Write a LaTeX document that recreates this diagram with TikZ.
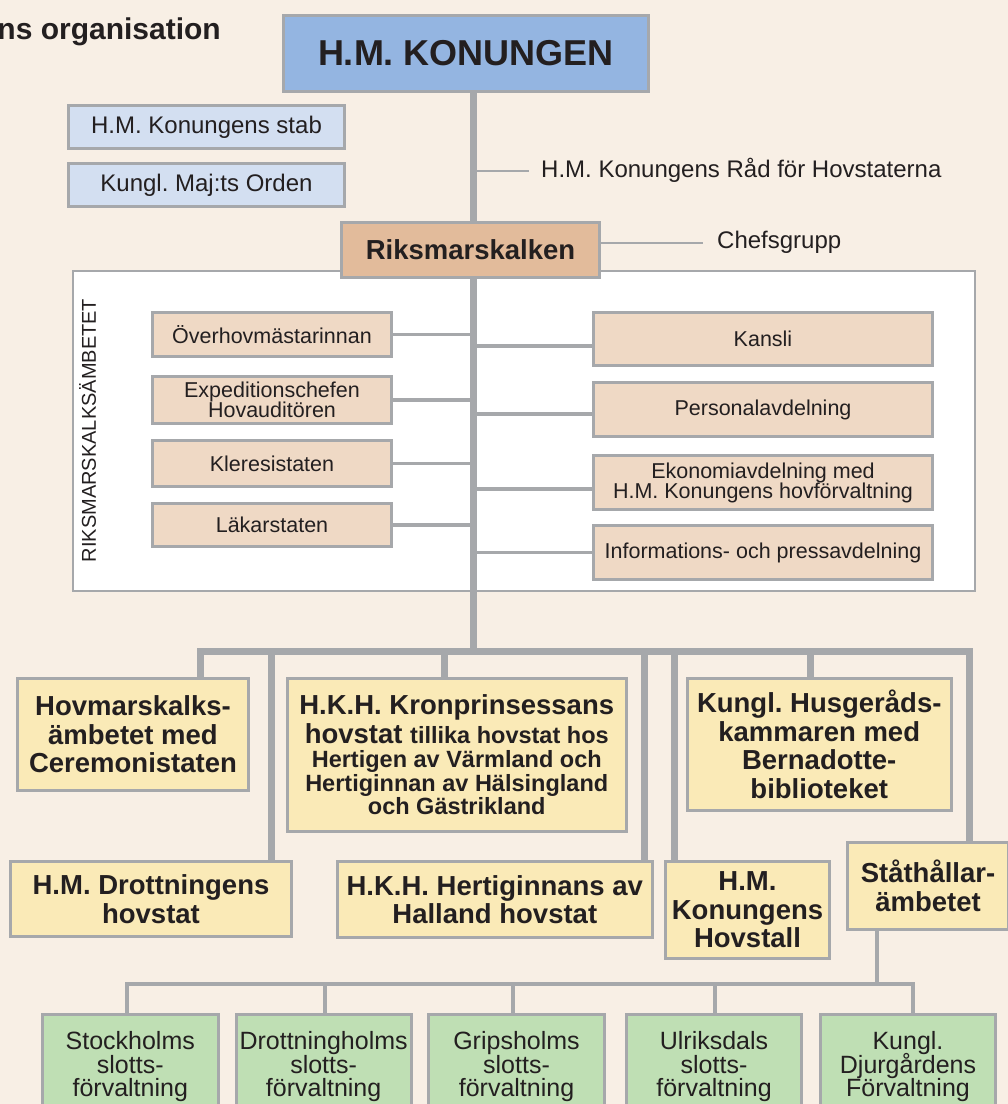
\documentclass[tikz,border=0pt]{standalone}
\usepackage{fontspec}
\setmainfont{Liberation Sans}
\usetikzlibrary{calc}
\definecolor{bgc}{HTML}{F8EFE5}
\definecolor{lgray}{HTML}{A6A8AB}
\definecolor{txt}{HTML}{231F20}
\definecolor{kingblue}{HTML}{94B5E1}
\definecolor{paleblue}{HTML}{D3DFF1}
\definecolor{tanc}{HTML}{E2BB9B}
\definecolor{beigec}{HTML}{EFD9C5}
\definecolor{yelc}{HTML}{FAEAB7}
\definecolor{grnc}{HTML}{BFDFB4}
\setlength{\lineskiplimit}{-100pt}
\setlength{\lineskip}{0pt}
\frenchspacing
\tikzset{
  boxbase/.style={draw=lgray, line width=3pt, inner sep=0pt, align=center, text=txt},
  kingbox/.style={boxbase, fill=kingblue, font=\bfseries\fontsize{36}{40}\selectfont},
  staffbox/.style={boxbase, fill=paleblue, font=\fontsize{24}{26}\selectfont},
  riksbox/.style={boxbase, fill=tanc, font=\bfseries\fontsize{27.5}{30}\selectfont},
  deptbox/.style={boxbase, fill=beigec, font=\fontsize{21.5}{20}\selectfont},
  courtbox/.style={boxbase, fill=yelc, font=\bfseries\fontsize{27.5}{28.5}\selectfont},
  palacebox/.style={boxbase, fill=grnc, font=\fontsize{25}{23.5}\selectfont},
  panelbox/.style={draw=lgray, line width=2.5pt, fill=white, inner sep=0pt},
  plaintext/.style={inner sep=0pt, text=txt, font=\fontsize{24}{26}\selectfont},
  trunkline/.style={draw=lgray, line width=7pt, line join=miter},
  branchline/.style={draw=lgray, line width=3.5pt},
  midline/.style={draw=lgray, line width=4pt, line join=miter},
  fineline/.style={draw=lgray, line width=2pt},
}
\newcommand{\smallb}{\fontsize{23.5}{24}\selectfont}
\begin{document}
\begin{tikzpicture}[x=1pt,y=-1pt]
\useasboundingbox (0,0) rectangle (1008,1104);
\clip (0,0) rectangle (1008,1104);
\fill[bgc] (0,0) rectangle (1008,1104);

% title
\node[inner sep=0pt, text=txt, font=\bfseries\fontsize{30}{32}\selectfont, anchor=base east] (title) at (221,39) {ns organisation};

% panel
\node[panelbox, minimum width=902, minimum height=320] (panel) at (524,431) {};
\node[inner sep=0pt, text=txt, font=\fontsize{20}{22}\selectfont, rotate=90] (panellabel) at (87.5,430.5) {RIKSMARSKALKSÄMBETET};

% top
\node[kingbox, minimum width=365, minimum height=76] (king) at (466,53.5) {H.M. KONUNGEN};
\node[staffbox, minimum width=276, minimum height=43] (stab) at (206.5,127) {H.M. Konungens stab};
\node[staffbox, minimum width=276, minimum height=43] (orden) at (206.5,185) {Kungl. Maj:ts Orden};
\node[riksbox, minimum width=258, minimum height=55] (riks) at (470.5,250) {Riksmarskalken};
\node[plaintext, anchor=base west] (rad) at (541,177) {H.M. Konungens Råd för Hovstaterna};
\node[plaintext, anchor=base west] (chef) at (717,248) {Chefsgrupp};

% departments left
\node[deptbox, minimum width=239, minimum height=44] (over) at (272,334.5) {Överhovmästarinnan};
\node[deptbox, minimum width=239, minimum height=47] (exped) at (272,400) {Expeditionschefen\\Hovauditören};
\node[deptbox, minimum width=239, minimum height=46] (kler) at (272,463.5) {Kleresistaten};
\node[deptbox, minimum width=239, minimum height=43] (lakar) at (272,525) {Läkarstaten};
% departments right
\node[deptbox, minimum width=339, minimum height=53] (kansli) at (763,339) {Kansli};
\node[deptbox, minimum width=339, minimum height=54] (personal) at (763,409.5) {Personalavdelning};
\node[deptbox, minimum width=339, minimum height=54] (ekon) at (763,482.5) {Ekonomiavdelning med\\H.M. Konungens hovförvaltning};
\node[deptbox, minimum width=339, minimum height=54] (info) at (763,552.5) {Informations- och pressavdelning};

% courts
\node[courtbox, minimum width=231, minimum height=112] (hovm) at (133,734.5) {Hovmarskalks-\\ämbetet med\\Ceremonistaten};
\node[courtbox, minimum width=338.5, minimum height=153] (kron) at (456.75,755) {H.K.H. Kronprinsessans\\hovstat {\smallb tillika hovstat hos}\\[-4.5pt]{\smallb Hertigen av Värmland och}\\[-4.5pt]{\smallb Hertiginnan av Hälsingland}\\[-5pt]{\smallb och Gästrikland}};
\node[courtbox, minimum width=263.5, minimum height=132] (husg) at (819.25,744.5) {Kungl. Husgeråds-\\kammaren med\\Bernadotte-\\biblioteket};
\node[courtbox, minimum width=281, minimum height=75] (drott) at (151,899) {H.M. Drottningens\\hovstat};
\node[courtbox, minimum width=314.6, minimum height=76] (hert) at (494.8,899.5) {H.K.H. Hertiginnans av\\Halland hovstat};
\node[courtbox, minimum width=164, minimum height=97] (hovst) at (747.5,910) {H.M.\\Konungens\\Hovstall};
\node[courtbox, minimum width=161, minimum height=87] (stat) at (928,886) {Ståthållar-\\ämbetet};

% palaces
\node[palacebox, minimum width=176.5, minimum height=105] (g1) at (130.25,1067) {Stockholms\\slotts-\\förvaltning};
\node[palacebox, minimum width=175, minimum height=105] (g2) at (323.6,1067) {Drottningholms\\slotts-\\förvaltning};
\node[palacebox, minimum width=176, minimum height=105] (g3) at (516.5,1067) {Gripsholms\\slotts-\\förvaltning};
\node[palacebox, minimum width=175, minimum height=105] (g4) at (714,1067) {Ulriksdals\\slotts-\\förvaltning};
\node[palacebox, minimum width=175, minimum height=105] (g5) at (908,1067) {Kungl.\\Djurgårdens\\Förvaltning};

% coordinates
\coordinate (busc) at (473,651);
\coordinate (radend) at (529,171);
\coordinate (chefend) at (703,243);
\coordinate (bl) at (200,651);
\coordinate (br) at (969,651);
\coordinate (d2) at (271,651);
\coordinate (d3) at (444,651);
\coordinate (d4) at (644,651);
\coordinate (d5) at (674,651);
\coordinate (d6) at (810,651);
\coordinate (sb) at (877,984);
\coordinate (gb1) at (127,984);
\coordinate (gb2) at (325,984);
\coordinate (gb3) at (513,984);
\coordinate (gb4) at (715,984);
\coordinate (gb5) at (913,984);

% trunk
\draw[trunkline] (king.south -| busc) -- (riks.north -| busc);
\draw[trunkline] (riks.south -| busc) -- (busc);
\draw[fineline] (radend -| busc) -- (radend);
\draw[fineline] (riks.east |- chefend) -- (chefend);

% department branches
\draw[branchline] (over.east) -- (over.east -| busc);
\draw[branchline] (exped.east) -- (exped.east -| busc);
\draw[branchline] (kler.east) -- (kler.east -| busc);
\draw[branchline] (lakar.east) -- (lakar.east -| busc);
\draw[branchline] ([yshift=-7pt]kansli.west) -- ([yshift=-7pt]kansli.west -| busc);
\draw[branchline] ([yshift=-4.5pt]personal.west) -- ([yshift=-4.5pt]personal.west -| busc);
\draw[branchline] ([yshift=-6.5pt]ekon.west) -- ([yshift=-6.5pt]ekon.west -| busc);
\draw[branchline] (info.west) -- (info.west -| busc);

% main bus
\draw[trunkline] (hovm.north -| bl) -- (bl) -- (br) -- (stat.north -| br);
\draw[trunkline] (d2) -- (drott.north -| d2);
\draw[trunkline] (d3) -- (kron.north -| d3);
\draw[trunkline] (d4) -- (hert.north -| d4);
\draw[trunkline] (d5) -- (hovst.north -| d5);
\draw[trunkline] (d6) -- (husg.north -| d6);

% palaces bus
\draw[midline] (stat.south -| sb) -- (sb);
\draw[midline] (g1.north -| gb1) -- (gb1) -- (gb5) -- (g5.north -| gb5);
\draw[midline] (gb2) -- (g2.north -| gb2);
\draw[midline] (gb3) -- (g3.north -| gb3);
\draw[midline] (gb4) -- (g4.north -| gb4);
\end{tikzpicture}
\end{document}
